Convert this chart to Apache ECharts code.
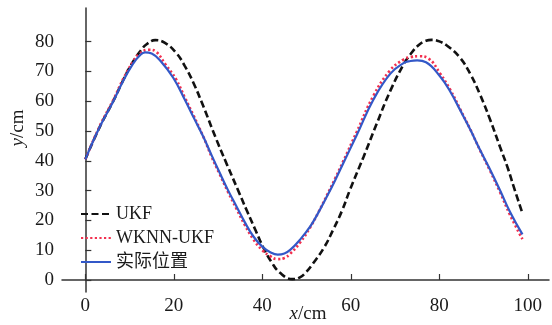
<!DOCTYPE html>
<html>
<head>
<meta charset="utf-8">
<script src="https://cdn.jsdelivr.net/npm/echarts@6/dist/echarts.min.js"></script>
<style>html,body{margin:0;padding:0;background:#fff;}#c{width:552px;height:325px;}</style>
</head>
<body>
<div id="c"></div>
<script>
const seriesNames = ['UKF', 'WKNN-UKF', '实际位置'];
const xTicks = [0, 20, 40, 60, 80, 100];
const yTicks = [0, 10, 20, 30, 40, 50, 60, 70, 80];

const ukfX = [0, 3.3, 6.3, 8.6, 10.5, 12.4, 14, 15.8, 18, 20.5, 22.5, 24.4, 26.7, 29.4, 32, 34.5, 36.5, 38.5, 40.2, 42, 44, 46.8, 48.5, 50, 51.5, 54, 56, 58, 59.8, 62.9, 65.9, 68.9, 71.9, 73.5, 75.3, 77, 78.3, 80, 82, 84.7, 87, 89.2, 91.5, 93.7, 95.5, 96.8, 98.8];
const ukfY = [40.5, 51.5, 60, 67.2, 72.6, 76.8, 79.3, 80.5, 79.6, 76.3, 71.8, 66.3, 58.2, 48, 38.8, 30.2, 23.3, 16.6, 11, 6.2, 2.4, 0.3, 0.9, 2.8, 5.6, 11, 16.8, 23.2, 30.2, 41.4, 52.6, 63.4, 72.3, 75.8, 78.8, 80.3, 80.6, 80.1, 78.4, 74.6, 69.2, 62.3, 53.8, 44.8, 37.5, 31.4, 22.4];

const wknnX = [0, 3.3, 6.3, 8.6, 10.8, 12.2, 14.3, 16, 18, 20.5, 22.5, 24.5, 26.7, 28.5, 30.4, 32.3, 34.2, 36, 38, 40, 41.8, 43.4, 45, 46.3, 48.5, 50.8, 52.7, 54.6, 56.5, 58.3, 61.3, 65.1, 68.9, 71.9, 73.5, 75.4, 77.5, 80.2, 82.5, 84.7, 87, 89.2, 91.5, 93.7, 96, 98.8];
const wknnY = [40.5, 51.8, 60.4, 67.6, 73.3, 75.9, 77.3, 76.6, 72.6, 67.4, 61.2, 55.1, 48, 41.5, 35.4, 29.4, 23.8, 18.6, 13.6, 10, 8, 7, 7.4, 8.8, 12.5, 17.6, 22.8, 28.4, 34.2, 39.9, 49.6, 61.8, 70.4, 74, 74.8, 75.1, 74.4, 69.3, 63.8, 57.4, 50.6, 43.6, 36.6, 29.6, 21.8, 13.7];

const realX = [0, 3.3, 6.3, 8.6, 10.8, 12.2, 13.5, 15, 17, 19.9, 22.5, 24.5, 26.7, 28.5, 30.4, 32.3, 34.2, 36, 38, 40, 41.8, 43.5, 45, 46.3, 48.5, 50.8, 52.7, 54.6, 56.5, 58.3, 61.3, 65.1, 68.9, 71.9, 73.5, 75, 77, 80.2, 82.5, 84.7, 87, 89.2, 91.5, 93.7, 96, 98.8];
const realY = [40.5, 51.5, 59.9, 67, 72.6, 75.2, 76.4, 76, 73.5, 67.8, 60.5, 54.5, 48, 42, 35.9, 30, 24.6, 19.5, 14.6, 11.2, 9.3, 8.5, 8.9, 10.1, 13.5, 17.9, 22.7, 28, 33.6, 39.2, 48.5, 60.5, 69.2, 72.8, 73.5, 73.7, 73.1, 68.3, 63.2, 57.1, 50.5, 43.7, 37, 30.2, 22.8, 15.3];

const zip = (xs, ys) => xs.map((x, i) => [x, ys[i]]);
const FONT = '"Liberation Serif", "Times New Roman", "Noto Sans CJK SC", serif';
const TXT = '#1a1a1a';

const chart = echarts.init(document.getElementById('c'), null, {renderer: 'canvas'});
chart.setOption({
  animation: false,
  backgroundColor: '#ffffff',
  grid: {left: 62, right: 3, top: 8, bottom: 33, containLabel: false, outerBoundsMode: 'none'},
  legend: {
    orient: 'vertical', left: 80, top: 205, padding: 0,
    itemWidth: 30, itemHeight: 12, itemGap: 6,
    itemStyle: {color: 'transparent', borderWidth: 0, opacity: 0},
    textStyle: {fontFamily: FONT, fontSize: 18, color: TXT},
    data: seriesNames
  },
  xAxis: {
    type: 'value', min: -5.27, max: 104.8,
    axisLine: {show: true, lineStyle: {color: '#333', width: 1.5}},
    axisTick: {show: true, inside: true, length: 6, customValues: xTicks, lineStyle: {color: '#333', width: 1.2}},
    axisLabel: {customValues: xTicks, margin: 5, fontFamily: FONT, fontSize: 19, color: TXT},
    splitLine: {show: false}
  },
  yAxis: {
    type: 'value', min: -4.03, max: 91.3,
    axisLine: {show: true, lineStyle: {color: '#333', width: 1.5}},
    axisTick: {show: true, inside: true, length: 6, customValues: yTicks, lineStyle: {color: '#333', width: 1.2}},
    axisLabel: {customValues: yTicks, margin: 8, fontFamily: FONT, fontSize: 19, color: TXT},
    splitLine: {show: false}
  },
  graphic: [{
    type: 'text', x: 18, y: 128, rotation: Math.PI / 2,
    style: {text: '{i|y}/cm', fontFamily: FONT, fontSize: 19, fill: TXT, align: 'center', verticalAlign: 'middle',
      rich: {i: {fontStyle: 'italic', fontFamily: FONT, fontSize: 19}}}
  }, {
    type: 'text', x: 308, y: 314,
    style: {text: '{i|x}/cm', fontFamily: FONT, fontSize: 19, fill: TXT, align: 'center', verticalAlign: 'middle',
      rich: {i: {fontStyle: 'italic', fontFamily: FONT, fontSize: 19}}}
  }],
  series: [
    {name: seriesNames[0], type: 'line', data: zip(ukfX, ukfY), smooth: 0.45, symbol: 'none',
      lineStyle: {color: '#111', width: 2.6, type: [7, 3.5]}, itemStyle: {color: '#111'}},
    {name: seriesNames[1], type: 'line', data: zip(wknnX, wknnY), smooth: 0.45, symbol: 'none',
      lineStyle: {color: '#f2304f', width: 2.6, type: [2.2, 2.4]}, itemStyle: {color: '#f2304f'}},
    {name: seriesNames[2], type: 'line', data: zip(realX, realY), smooth: 0.45, symbol: 'none',
      lineStyle: {color: '#3358c8', width: 2.2, type: 'solid'}, itemStyle: {color: '#3358c8'}}
  ]
});
</script>
</body>
</html>
